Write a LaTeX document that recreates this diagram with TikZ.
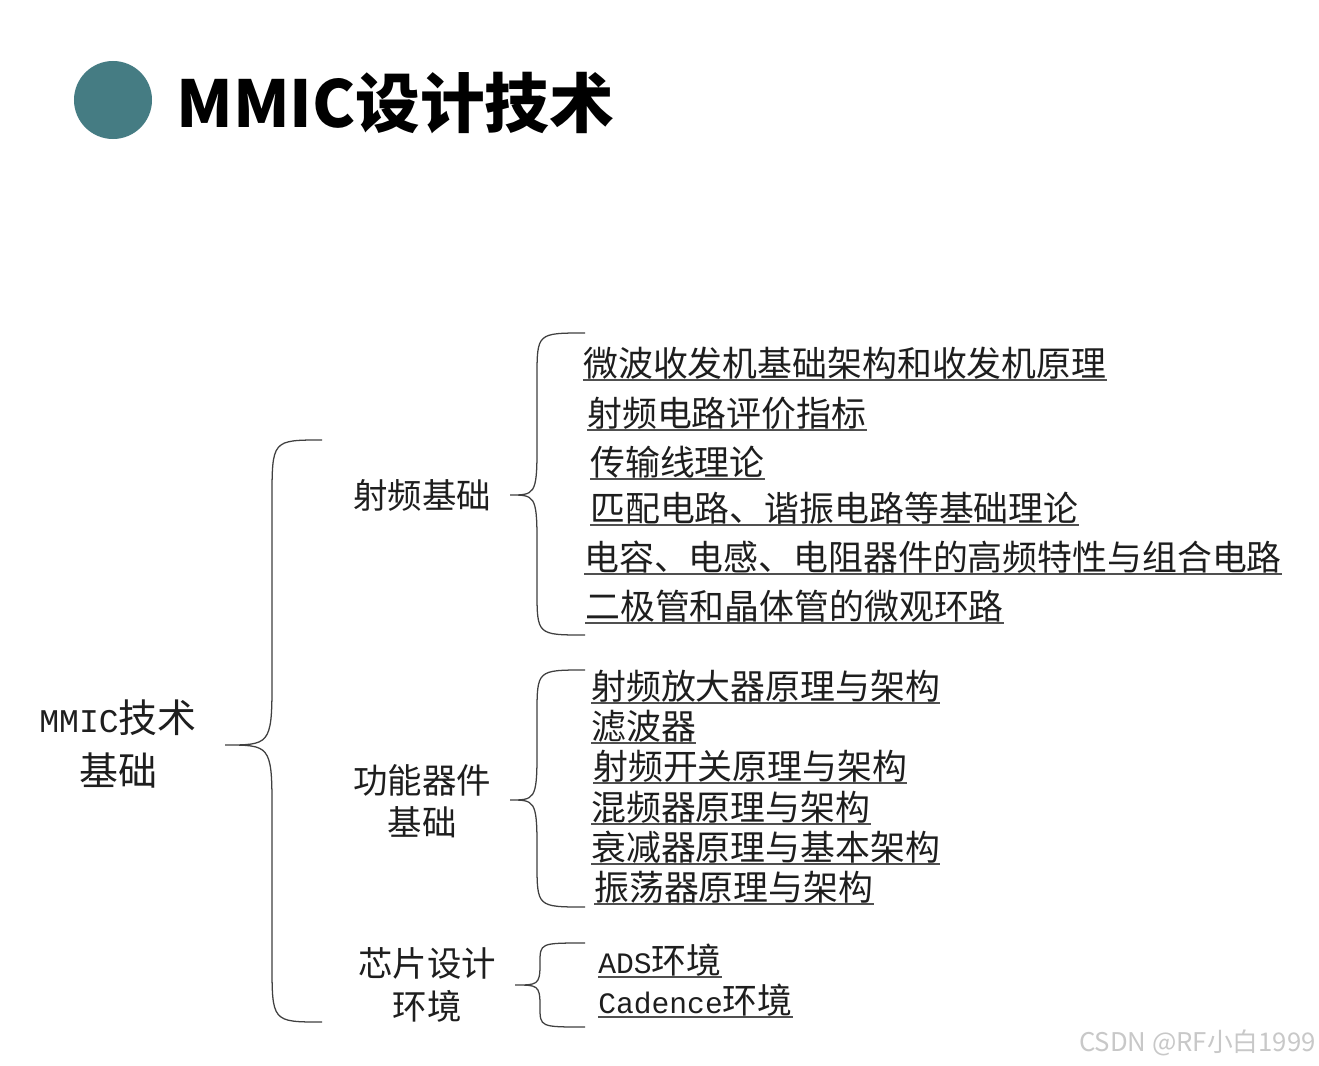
\documentclass[tikz,border=0pt]{standalone}
\usepackage{fontspec}
\usetikzlibrary{positioning,calc}
\setmainfont{Noto Sans CJK SC}
\newfontfamily\mono[Scale=0.85]{Liberation Mono}
\definecolor{AzulTeal}{RGB}{69,124,131}
\definecolor{Tinta}{RGB}{30,30,30}
\definecolor{Raya}{RGB}{80,80,80}
\definecolor{Marca}{RGB}{200,200,200}
\newcommand{\llaveizq}[7]{% extremo, lomo, punta, arriba, centro, abajo, radio
  \draw[llave] (#1,#4) .. controls (#2,#4) .. (#2,{#4+#7}) -- (#2,{#5-#7})
    .. controls (#2,#5) and ({#2-3},#5) .. (#3,#5)
    .. controls ({#2-3},#5) and (#2,#5) .. (#2,{#5+#7}) -- (#2,{#6-#7})
    .. controls (#2,#6) .. (#1,#6);}

\begin{document}
\begin{tikzpicture}[x=0.025cm, y=-0.025cm,
    llave/.style={draw=black!75, line width=0.9pt},
    tema/.style={text=Tinta, font=\fontsize{24.5}{30}\selectfont, align=center, inner sep=0pt},
    punto/.style={anchor=west, inner xsep=0pt, inner ysep=0.5pt, text=Tinta,
      font=\fontsize{24.8}{30}\selectfont,
      append after command={(\tikzlastnode.south west) edge[draw=Raya, line width=1.1pt] (\tikzlastnode.south east)}}]
  \useasboundingbox[fill=white] (0,0) rectangle (1319,1065);

  % titulo
  \node[circle, fill=AzulTeal, minimum size=1.95cm, inner sep=0pt] (bola) at (113,100) {};
  \node[anchor=west, inner sep=0pt, font=\fontsize{46}{52}\selectfont\bfseries] (titulo) at (176,103) {MMIC设计技术};

  % raiz
  \node[tema, font=\fontsize{27.7}{37}\selectfont] (raiz) at (118,744) {{\mono MMIC}技术\\基础};
  \llaveizq{322}{272}{225}{440}{745}{1022}{60}

  % ramas
  \node[tema] (rf) at (422,495) {射频基础};
  \node[tema] (funcion) at (422,801) {功能器件\\基础};
  \node[tema] (chip) at (427,985) {芯片设计\\环境};
  \llaveizq{585}{537}{510}{333}{495}{635}{45}
  \llaveizq{585}{537}{510}{670}{800}{907}{45}
  \llaveizq{585}{540}{515}{943}{985}{1027}{20}

  % hojas: 射频基础
  \node[punto] (rf1) at (583,363) {微波收发机基础架构和收发机原理};
  \node[punto] (rf2) at (587,413) {射频电路评价指标};
  \node[punto] (rf3) at (590,462) {传输线理论};
  \node[punto] (rf4) at (590,508) {匹配电路、谐振电路等基础理论};
  \node[punto] (rf5) at (584,557) {电容、电感、电阻器件的高频特性与组合电路};
  \node[punto] (rf6) at (585,606) {二极管和晶体管的微观环路};

  % hojas: 功能器件基础
  \node[punto] (fn1) at (591,686) {射频放大器原理与架构};
  \node[punto] (fn2) at (591,726) {滤波器};
  \node[punto] (fn3) at (593,766) {射频开关原理与架构};
  \node[punto] (fn4) at (591,807) {混频器原理与架构};
  \node[punto] (fn5) at (591,847) {衰减器原理与基本架构};
  \node[punto] (fn6) at (594,887) {振荡器原理与架构};

  % hojas: 芯片设计环境
  \node[punto] (ch1) at (598,960) {{\mono ADS}环境};
  \node[punto] (ch2) at (598,1000) {{\mono Cadence}环境};

  \node[anchor=east, inner sep=0pt, text=Marca, font=\fontsize{18.3}{20}\selectfont] (marca) at (1316,1043) {CSDN @RF小白1999};
\end{tikzpicture}
\end{document}
